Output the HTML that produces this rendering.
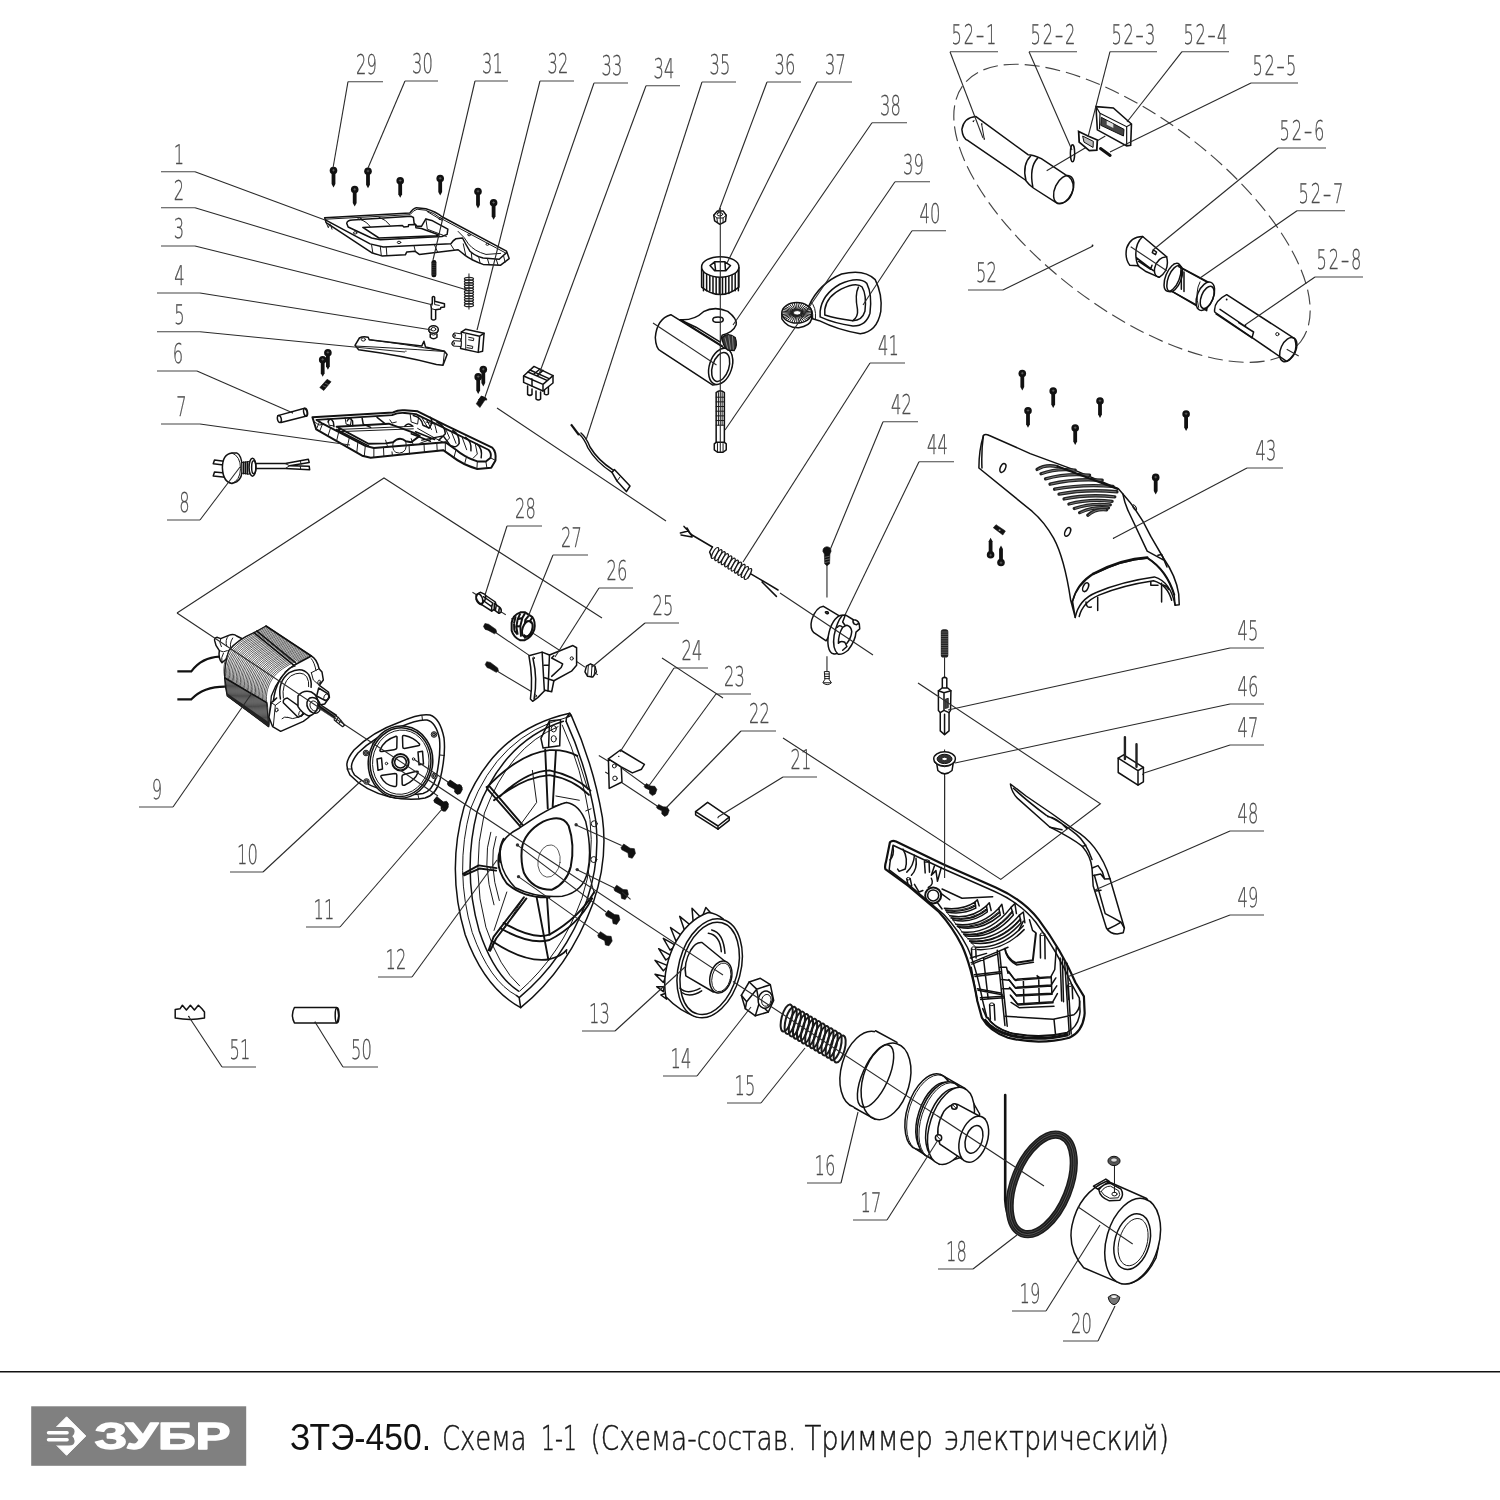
<!DOCTYPE html>
<html lang="ru">
<head>
<meta charset="utf-8">
<title>ЗТЭ-450. Схема 1-1</title>
<style>
html,body{margin:0;padding:0;background:#fff;}
body{width:1500px;height:1500px;overflow:hidden;position:relative;font-family:"Liberation Sans",sans-serif;}
svg{position:absolute;left:0;top:0;display:block;}
svg path,svg line,svg circle,svg ellipse,svg polygon,svg polyline,svg rect{vector-effect:non-scaling-stroke;}
.k{fill:none;stroke:#1a1a1a;stroke-width:1;stroke-linecap:round;stroke-linejoin:round;}
.k2{fill:none;stroke:#111;stroke-width:1.5;stroke-linecap:round;stroke-linejoin:round;}
.k3{fill:none;stroke:#111;stroke-width:2;stroke-linecap:round;stroke-linejoin:round;}
.t{fill:none;stroke:#333;stroke-width:0.8;stroke-linecap:round;stroke-linejoin:round;}
.w{fill:#fff;stroke:#1a1a1a;stroke-width:1;stroke-linecap:round;stroke-linejoin:round;}
.w2{fill:#fff;stroke:#111;stroke-width:1.5;stroke-linecap:round;stroke-linejoin:round;}
.b{fill:#111;stroke:#111;stroke-width:0.6;stroke-linejoin:round;}
.lam{fill:none;stroke:#222;stroke-width:0.75;}
.lam2{fill:none;stroke:#222;stroke-width:0.7;}
.ld{fill:none;stroke:#2a2a2a;stroke-width:1.1;}
.ul{fill:none;stroke:#444;stroke-width:1.15;}
.num{font-family:"DejaVu Sans Light","DejaVu Sans","Liberation Sans",sans-serif;font-weight:200;fill:#4d4d4d;stroke:#4d4d4d;stroke-width:0.3px;font-size:27.2px;text-rendering:geometricPrecision;}
#p-90_labels,#p-00_footer{filter:grayscale(1);}
</style>
</head>
<body>
<svg width="1500" height="1500" viewBox="0 0 1500 1500">
<defs>
<g id="scr"><circle cx="0" cy="0" r="3.8" fill="#111"/><path d="M-1.9 0 V13.5 L0 17 L1.9 13.5 V0 Z" fill="#111"/><path d="M-1.4 -0.3 L1.4 -0.3 M0 -1.6 V1" stroke="#777" stroke-width="0.6" fill="none"/></g>
</defs>
<g id="p-00_footer">
<line x1="0" y1="1371.75" x2="1500" y2="1371.75" stroke="#111" stroke-width="1.5"/>
<rect x="31.2" y="1406.3" width="215" height="59.5" fill="#807f84"/>
<polygon points="66.6,1416.8 85.8,1436 66.6,1455.3 47.4,1436" fill="#fff" stroke="#fff" stroke-width="1" stroke-linejoin="round"/>
<path d="M40 1427 H69 Q74.6 1427 74.6 1431.5 Q74.6 1434.5 72.3 1436.2 Q74.6 1438 74.6 1441 Q74.6 1445.5 69 1445.5 H40 Z" fill="#807f84"/>
<rect x="46.8" y="1431" width="22" height="3.5" rx="1.7" fill="#fff"/>
<rect x="46.8" y="1438" width="22" height="3.5" rx="1.7" fill="#fff"/>
<text x="94.5" y="1449" textLength="136" lengthAdjust="spacingAndGlyphs" font-family="'Liberation Sans',sans-serif" font-weight="bold" font-size="36.5" fill="#fff" stroke="#fff" stroke-width="1.4" stroke-linejoin="round">ЗУБР</text>
<text x="290" y="1450" textLength="141" lengthAdjust="spacingAndGlyphs" font-family="'Liberation Sans',sans-serif" font-size="36" fill="#111">ЗТЭ-450.</text>
<g font-family="'DejaVu Sans Light','DejaVu Sans','Liberation Sans',sans-serif" font-weight="200" font-size="34" fill="#161616" stroke="#161616" stroke-width="0.45">
<text x="442" y="1450" textLength="84.5" lengthAdjust="spacingAndGlyphs">Схема</text>
<text x="541" y="1450" textLength="36" lengthAdjust="spacingAndGlyphs">1-1</text>
<text x="590.5" y="1450" textLength="206" lengthAdjust="spacingAndGlyphs">(Схема-состав.</text>
<text x="804.5" y="1450" textLength="128.5" lengthAdjust="spacingAndGlyphs">Триммер</text>
<text x="944" y="1450" textLength="225" lengthAdjust="spacingAndGlyphs">электрический)</text>
</g>
</g>
<g id="p-10_p01">
<g transform="translate(310,150) scale(0.146667)">
<path class="w2" d="M100,462 L680,430 Q700,400 725,393 L790,400 Q860,420 900,455 L1340,690 L1358,740 L1300,785 L1180,780 Q1100,750 1060,720 L1010,680 L745,712 L715,690 L660,695 L650,715 L490,722 L420,700 L110,495 Z"/>
<path class="k" d="M104,472 L682,441 Q705,410 730,404 L785,410 Q850,430 890,465 L1330,700"/>
<path class="k2" d="M108,478 L410,640 L500,662 L960,640 Q975,615 995,605 L1040,600 Q1060,640 1090,690 Q1130,725 1180,737 L1290,745 L1340,700"/>
<path class="k" d="M420,648 L428,700 M480,664 L486,718 M520,665 L524,716 M710,656 L718,690 M850,650 L870,696 M960,645 L985,684 M1045,640 L1062,718 M1100,705 L1105,750 M1150,728 L1160,772 M1210,742 L1222,782 M1270,746 L1282,784 M1320,722 L1330,765 M110,495 L125,530 L135,505 M140,510 L150,540"/>
<path class="k2" d="M250,500 Q255,480 290,478 L690,452 L705,460 L710,500 L730,520 L760,520 L790,470 L830,480 L940,540 L935,575 L900,590 L480,612 L420,600 L260,525 Z"/>
<path class="k2" d="M360,528 L630,515 L640,525 L670,522 L672,510 L720,508 L722,530 L760,535 L880,580 L860,585 L470,600 Z"/>
<path class="k" d="M340,472 Q390,490 410,522 M470,458 Q520,475 545,512 M790,470 L800,540 L930,590 M1010,555 Q1060,600 1080,640 Q1120,690 1200,712 L1300,705 M800,420 L900,480"/>
<ellipse class="k" cx="338" cy="468" rx="10" ry="7"/><ellipse class="k" cx="308" cy="565" rx="12" ry="8"/><ellipse class="k" cx="607" cy="630" rx="12" ry="8"/><ellipse class="k" cx="888" cy="468" rx="10" ry="7"/><ellipse class="k" cx="1085" cy="578" rx="10" ry="7"/><ellipse class="k" cx="1210" cy="643" rx="10" ry="7"/>
</g>
<use href="#scr" x="333.5" y="170.5"/><use href="#scr" x="368" y="171.3"/><use href="#scr" x="354.7" y="189.6"/><use href="#scr" x="400.2" y="180.8"/><use href="#scr" x="440.2" y="178.6"/><use href="#scr" x="478" y="191.5"/><use href="#scr" x="493.6" y="202.8"/>
</g>
<g id="p-11_p02_05">
<g transform="translate(300,250) scale(0.146667)">
<!-- 31 pin -->
<rect x="896" y="68" width="34" height="118" rx="15" fill="#111"/>
<path d="M900 90 H926 M900 105 H926 M900 120 H926 M900 135 H926 M900 150 H926 M900 165 H926" stroke="#555" stroke-width="0.5" fill="none"/>
<!-- 2 spring -->
<path class="ld" d="M1152 160 V405"/>
<g fill="none" stroke="#222" stroke-width="1.25"><ellipse cx="1152" cy="196" rx="31" ry="10"/><ellipse cx="1152" cy="214" rx="31" ry="10"/><ellipse cx="1152" cy="232" rx="31" ry="10"/><ellipse cx="1152" cy="250" rx="31" ry="10"/><ellipse cx="1152" cy="268" rx="31" ry="10"/><ellipse cx="1152" cy="286" rx="31" ry="10"/><ellipse cx="1152" cy="304" rx="31" ry="10"/><ellipse cx="1152" cy="322" rx="31" ry="10"/><ellipse cx="1152" cy="340" rx="31" ry="10"/><ellipse cx="1152" cy="358" rx="31" ry="10"/><ellipse cx="1152" cy="376" rx="31" ry="10"/></g>
<!-- 3 -->
<path class="w2" d="M902 322 Q910 312 918 322 V350 L985 366 V388 L960 392 L958 402 L925 408 V470 Q910 485 896 470 V400 L892 372 L902 366 Z"/>
<path class="k" d="M918 350 L918 372 L950 378 M896 400 L925 408"/>
<!-- 4 -->
<path class="w2" d="M888 575 V595 Q910 615 934 595 V575"/>
<ellipse class="w2" cx="910" cy="542" rx="33" ry="26"/>
<ellipse class="k" cx="910" cy="540" rx="16" ry="12"/>
<path class="k" d="M878 548 Q880 575 910 580 Q940 575 942 548"/>
<!-- 5 lever -->
<path class="w2" d="M375 650 L405 600 Q430 585 465 595 L472 612 L830 655 L845 622 L856 662 L985 690 L1003 712 L975 785 L930 780 Q700 720 400 680 Z"/>
<path class="k" d="M378 655 Q600 665 985 692 M975 785 L985 692 M472 612 Q700 640 985 690"/>
<ellipse class="k" cx="432" cy="610" rx="14" ry="11"/>
<circle cx="722" cy="690" r="4" fill="#111"/>
<!-- 32 switch -->
<path class="w2" d="M1100 560 L1130 540 L1255 568 L1245 690 L1215 698 L1095 672 Z"/>
<path class="k2" d="M1100 560 L1225 588 L1255 568 M1225 588 L1215 698"/>
<path class="w" d="M1100 572 L1052 565 L1042 585 L1050 600 L1098 606 Z M1098 622 L1045 618 L1035 640 L1045 655 L1096 658 Z"/>
<ellipse class="k" cx="1050" cy="583" rx="8" ry="14"/><ellipse class="k" cx="1044" cy="637" rx="8" ry="14"/>
<path class="k" d="M1150 595 L1185 602 L1183 618 L1150 612 M1140 650 L1178 657 L1176 672 L1138 666 M1130 575 V680"/>
<!-- nuts -->
<path class="b" d="M135 938 L185 882 L212 898 L162 958 Z"/>
<path d="M155 925 L180 935 M170 908 L195 918" stroke="#888" stroke-width="0.6" fill="none"/>
<path class="b" d="M1215 1023 L1240 998 L1268 1010 L1275 1023 Z"/>
</g>
<use href="#scr" x="327.9" y="352.7"/><use href="#scr" x="322.7" y="359.7"/><use href="#scr" x="483.3" y="369.5"/><use href="#scr" x="478.2" y="376.9"/>
</g>
<g id="p-12_p06_08">
<g transform="translate(200,390) scale(0.213333)">
<!-- 7 -->
<path class="w2" style="stroke-width:2" d="M527,128 L905,105 Q930,92 960,95 L1020,100 L1150,165 L1370,270 Q1390,290 1385,330 L1365,365 L1300,370 Q1230,350 1180,310 L1140,282 L800,318 L760,308 L545,185 Z"/>
<path class="k2" style="stroke-width:1.9" d="M546,140 L900,118 Q930,105 960,108 L1012,113 L1352,280 Q1368,295 1362,318 L1340,335 L1300,335 Q1240,315 1200,280 L1150,245 L815,272 L775,262 L575,158 Z"/>
<path class="k2" style="stroke-width:1.9" d="M640,172 L885,158 L1000,200 L1030,215 L990,245 L965,240 Q935,215 905,245 L870,250 L790,252 Z"/>
<path class="k" d="M650,185 L1000,170 M660,195 L1000,182 M600,135 L605,165 L625,168 M680,130 L685,160 L705,165 L710,135 M890,140 L900,155 L920,150 M985,112 L990,150 L1020,160 L1025,125 M1040,130 L1070,180 M1060,150 L1100,160 L1110,200 M1150,180 L1170,225 L1150,245 M1180,200 L1200,250 M1230,225 L1250,280 M1290,250 L1300,300 L1280,320 M1100,225 L1140,245 M1020,180 L1100,225 L1030,250 M1060,135 L1085,185 M870,235 L880,268 M990,228 L1000,258"/>
<path class="k" d="M905,245 Q895,295 935,296 Q975,292 965,242"/>
<path class="k" d="M560,150 L545,185 M575,158 L560,195 M612,178 L600,215 M650,198 L640,240 M700,224 L690,268 M740,245 L735,292 M775,262 L770,310 M815,272 L815,316 M860,268 L862,312 M900,290 L902,308 M980,258 L982,300 M1050,252 L1052,292 M1110,248 L1112,286 M1150,245 L1150,285 M1200,280 L1190,318 M1250,310 L1240,348 M1300,335 L1298,370 M1340,335 L1345,366 M1362,318 L1385,330 M540,150 Q560,175 575,158"/>
<path class="k2" d="M600,150 Q610,125 625,150 L628,172 M690,145 Q700,122 715,145 L716,168 M760,132 L765,160 L800,175 M830,128 L870,160 M1000,120 Q1040,130 1045,165 L1075,178 Q1095,150 1080,128 M1110,150 Q1150,170 1150,205 L1120,235 M1185,190 Q1215,205 1215,250 Q1200,275 1180,262 M1245,222 Q1275,240 1270,285 M1300,255 Q1325,275 1318,318 M1040,235 L1140,215 L1175,262 M640,185 L790,262 M650,172 L655,195 M990,205 L1080,240 M1010,196 L1100,232 M960,170 Q975,150 995,168"/>
<!-- 6 -->
<path class="w2" d="M365,120 L490,86 Q508,98 500,122 L380,152 Q360,145 365,120 Z"/>
<ellipse class="k2" cx="495" cy="104" rx="9" ry="19" transform="rotate(-12 495 104)"/>
<path class="k" d="M430,100 L432,108"/><ellipse class="w2" cx="372" cy="136" rx="9" ry="17" transform="rotate(-12 372 136)"/>
<!-- 8 plug -->
<path class="w2" d="M130,336 L68,328 L62,346 L130,354 Z M130,390 L68,384 L62,403 L130,410 Z"/>
<path class="w2" d="M150,295 Q105,300 105,365 Q108,432 150,438 L172,430 Q200,415 198,360 Q195,305 172,295 Z"/>
<path class="k" d="M150,295 Q190,310 190,368 Q188,425 150,438"/>
<path class="w" d="M198,340 L232,335 L232,395 L198,390 Z"/>
<path class="k2" d="M205,338 V392 M214,337 V393 M223,336 V394"/>
<ellipse class="w2" cx="246" cy="362" rx="16" ry="42"/>
<ellipse class="k2" cx="252" cy="362" rx="10" ry="30"/>
<path class="k2" d="M262,345 L400,345 L508,325 L512,340 L420,355 L512,358 L514,374 L400,368 L262,368"/>
<path class="k" d="M400,345 L420,355 L400,368 M470,332 L474,347 M470,357 L472,372"/>
<!-- nut -->
<path class="b" d="M1295,65 L1318,28 L1342,38 L1312,82 Z"/>
</g>
</g>
<g id="p-20_p09">
<g transform="translate(170,600) scale(0.133333)">
<path class="w2" d="M335,305 Q330,285 355,280 L380,290 L440,265 Q480,250 500,270 L560,300 L450,420 L390,470 Q360,440 370,380 L345,340 Z"/>
<path class="k" d="M380,290 Q365,320 385,350 M440,265 Q410,300 425,345 M470,285 Q440,330 460,380 M370,380 Q400,400 430,380 M390,470 Q380,430 400,400"/>
<path d="M55,535 L160,535 Q240,430 372,425" fill="none" stroke="#111" stroke-width="2.2"/>
<path d="M55,745 L160,745 Q250,650 412,650" fill="none" stroke="#111" stroke-width="2.2"/>
<path d="M630,245 L720,195 L1060,420 L930,490 Q820,560 760,720 L740,950 L430,720 Q385,560 440,380 Q500,300 630,245 Z" fill="#fff" stroke="#111" stroke-width="1.3" stroke-linejoin="round"/>
<path class="lam" d="M630,245 C560,280 480,325 445,385 C405,450 395,520 412,590"/>
<path class="lam" d="M640,252 C570,287 490,332 455,392 C415,457 405,527 422,597"/>
<path class="lam" d="M651,259 C581,294 501,339 466,399 C426,464 416,534 433,604"/>
<path class="lam" d="M661,265 C591,300 511,345 476,405 C436,470 426,540 443,610"/>
<path class="lam" d="M671,272 C601,307 521,352 486,412 C446,477 436,547 453,617"/>
<path class="lam" d="M682,279 C612,314 532,359 496,419 C456,484 446,554 464,624"/>
<path class="lam" d="M692,286 C622,321 542,366 507,426 C467,491 457,561 474,631"/>
<path class="lam" d="M702,293 C632,328 552,373 517,433 C477,498 467,568 484,638"/>
<path class="lam" d="M712,299 C642,334 562,379 527,439 C487,504 477,574 494,644"/>
<path class="lam" d="M723,306 C653,341 573,386 538,446 C498,511 488,581 505,651"/>
<path class="lam" d="M733,313 C663,348 583,393 548,453 C508,518 498,588 515,658"/>
<path class="lam" d="M743,320 C673,355 593,400 558,460 C518,525 508,595 525,665"/>
<path class="lam" d="M754,327 C684,362 604,407 569,467 C529,532 519,602 536,672"/>
<path class="lam" d="M764,333 C694,368 614,413 579,473 C539,538 529,608 546,678"/>
<path class="lam" d="M774,340 C704,375 624,420 589,480 C549,545 539,615 556,685"/>
<path class="lam" d="M784,347 C714,382 634,427 600,487 C560,552 550,622 566,692"/>
<path class="lam" d="M795,354 C725,389 645,434 610,494 C570,559 560,629 577,699"/>
<path class="lam" d="M805,361 C735,396 655,441 620,501 C580,566 570,636 587,706"/>
<path class="lam" d="M815,367 C745,402 665,447 630,507 C590,572 580,642 597,712"/>
<path class="lam" d="M826,374 C756,409 676,454 641,514 C601,579 591,649 608,719"/>
<path class="lam" d="M836,381 C766,416 686,461 651,521 C611,586 601,656 618,726"/>
<path class="lam" d="M846,388 C776,423 696,468 661,528 C621,593 611,663 628,733"/>
<path class="lam" d="M857,395 C787,430 707,475 672,535 C632,600 622,670 639,740"/>
<path class="lam" d="M867,401 C797,436 717,481 682,541 C642,606 632,676 649,746"/>
<path class="lam" d="M877,408 C807,443 727,488 692,548 C652,613 642,683 659,753"/>
<path class="lam" d="M888,415 C818,450 738,495 702,555 C662,620 652,690 670,760"/>
<path class="lam" d="M898,422 C828,457 748,502 713,562 C673,627 663,697 680,767"/>
<path class="lam" d="M908,429 C838,464 758,509 723,569 C683,634 673,704 690,774"/>
<path class="lam" d="M918,435 C848,470 768,515 733,575 C693,640 683,710 700,780"/>
<path class="lam" d="M929,442 C859,477 779,522 744,582 C704,647 694,717 711,787"/>
<path class="lam" d="M939,449 C869,484 789,529 754,589 C714,654 704,724 721,794"/>
<path class="lam" d="M949,456 C879,491 799,536 764,596 C724,661 714,731 731,801"/>
<path class="lam2" d="M632,247 L720,197"/>
<path class="lam2" d="M640,252 L728,202"/>
<path class="lam2" d="M648,258 L736,208"/>
<path class="lam2" d="M657,263 L745,213"/>
<path class="lam2" d="M665,269 L753,219"/>
<path class="lam2" d="M673,274 L761,224"/>
<path class="lam2" d="M681,280 L769,230"/>
<path class="lam2" d="M689,285 L777,235"/>
<path class="lam2" d="M698,291 L786,241"/>
<path class="lam2" d="M706,296 L794,246"/>
<path class="lam2" d="M714,302 L802,252"/>
<path class="lam2" d="M722,307 L810,257"/>
<path class="lam2" d="M730,312 L818,262"/>
<path class="lam2" d="M739,318 L827,268"/>
<path class="lam2" d="M747,323 L835,273"/>
<path class="lam2" d="M755,329 L843,279"/>
<path class="lam2" d="M763,334 L851,284"/>
<path class="lam2" d="M771,340 L859,290"/>
<path class="lam2" d="M780,345 L868,295"/>
<path class="lam2" d="M788,351 L876,301"/>
<path class="lam2" d="M796,356 L884,306"/>
<path class="lam2" d="M804,361 L892,311"/>
<path class="lam2" d="M812,367 L900,317"/>
<path class="lam2" d="M821,372 L909,322"/>
<path class="lam2" d="M829,378 L917,328"/>
<path class="lam2" d="M837,383 L925,333"/>
<path class="lam2" d="M845,389 L933,339"/>
<path class="lam2" d="M853,394 L941,344"/>
<path class="lam2" d="M862,400 L950,350"/>
<path class="lam2" d="M870,405 L958,355"/>
<path class="lam2" d="M878,410 L966,360"/>
<path class="lam2" d="M886,416 L974,366"/>
<path class="lam2" d="M894,421 L982,371"/>
<path class="lam2" d="M903,427 L991,377"/>
<path class="lam2" d="M911,432 L999,382"/>
<path class="lam2" d="M919,438 L1007,388"/>
<path class="lam2" d="M927,443 L1015,393"/>
<path class="lam2" d="M935,449 L1023,399"/>
<path class="lam2" d="M944,454 L1032,404"/>
<path class="lam2" d="M952,460 L1040,410"/>
<path class="lam2" d="M960,465 L1048,415"/>
<path class="k2" d="M630,245 L930,490 M650,232 L950,478 M720,195 L1060,420"/>
<path d="M412,585 L725,770 L740,950 L430,720 Z" fill="#d0d0d0" stroke="#111" stroke-width="1"/>
<path class="lam" d="M418,590 L432,718"/>
<path class="lam" d="M426,595 L440,724"/>
<path class="lam" d="M434,599 L448,729"/>
<path class="lam" d="M442,604 L456,735"/>
<path class="lam" d="M450,609 L464,741"/>
<path class="lam" d="M458,614 L472,747"/>
<path class="lam" d="M466,618 L480,752"/>
<path class="lam" d="M474,623 L488,758"/>
<path class="lam" d="M482,628 L496,764"/>
<path class="lam" d="M490,633 L504,770"/>
<path class="lam" d="M498,637 L512,775"/>
<path class="lam" d="M506,642 L520,781"/>
<path class="lam" d="M514,647 L528,787"/>
<path class="lam" d="M522,651 L536,792"/>
<path class="lam" d="M530,656 L544,798"/>
<path class="lam" d="M538,661 L552,804"/>
<path class="lam" d="M546,666 L560,810"/>
<path class="lam" d="M554,670 L568,815"/>
<path class="lam" d="M562,675 L576,821"/>
<path class="lam" d="M570,680 L584,827"/>
<path class="lam" d="M578,685 L592,833"/>
<path class="lam" d="M586,689 L600,838"/>
<path class="lam" d="M594,694 L608,844"/>
<path class="lam" d="M602,699 L616,850"/>
<path class="lam" d="M610,704 L624,856"/>
<path class="lam" d="M618,708 L632,861"/>
<path class="lam" d="M626,713 L640,867"/>
<path class="lam" d="M634,718 L648,873"/>
<path class="lam" d="M642,722 L656,878"/>
<path class="lam" d="M650,727 L664,884"/>
<path class="lam" d="M658,732 L672,890"/>
<path class="lam" d="M666,737 L680,896"/>
<path class="lam" d="M674,741 L688,901"/>
<path class="lam" d="M682,746 L696,907"/>
<path class="lam" d="M690,751 L704,913"/>
<path class="lam" d="M698,756 L712,919"/>
<path class="lam" d="M706,760 L720,924"/>
<path class="lam" d="M714,765 L728,930"/>
<path class="lam" d="M722,770 L736,936"/>
<path class="lam" d="M730,774 L744,941"/>
<path d="M428,700 L739,915 L740,950 L432,722 Z" fill="#222"/>
<path class="k2" d="M412,585 L725,770"/>
<path class="w2" d="M930,490 L1060,420 Q1100,440 1118,515 L1140,540 L1150,600 L1120,640 L1188,690 L1196,730 L1160,780 L1100,792 Q1080,860 1000,910 L830,985 L770,950 L742,880 L760,770 L800,735 L775,760 C790,620 850,540 930,490 Z"/>
<path class="k2" d="M828,742 Q805,610 895,545 Q990,495 1040,560 Q1065,610 1058,655"/>
<path class="k" d="M850,735 Q835,630 905,570 Q985,525 1025,575 Q1045,610 1040,650 M860,540 Q900,500 940,495 M1060,440 Q1085,470 1095,530 M760,770 L790,790 L830,760 M790,790 L775,945 M1060,545 L1090,530 L1118,515 M1060,545 L1075,600 L1120,640 M1100,792 L1075,760"/>
<path class="w2" d="M850,770 Q845,740 880,735 L1000,820 Q1010,850 980,870 L960,880 Z"/>
<ellipse class="k" cx="985" cy="850" rx="18" ry="26" transform="rotate(25 985 850)"/>
<path class="w2" d="M1115,660 L1180,700 Q1200,720 1185,745 L1165,755 L1100,720 Z"/>
<ellipse class="k" cx="1172" cy="728" rx="17" ry="25" transform="rotate(25 1172 728)"/>
<ellipse class="k" cx="800" cy="825" rx="10" ry="15" transform="rotate(20 800 825)"/>
<ellipse class="k" cx="1118" cy="615" rx="9" ry="15" transform="rotate(20 1118 615)"/>
<path class="w2" d="M960,720 Q1000,670 1060,690 Q1120,720 1110,800 Q1090,860 1040,870 Q990,850 960,800 Z"/>
<ellipse class="k2" cx="1078" cy="790" rx="48" ry="62" transform="rotate(-28 1078 790)"/>
<ellipse class="k" cx="1082" cy="795" rx="30" ry="40" transform="rotate(-28 1082 795)"/>
<path class="k" d="M880,880 Q920,900 960,880 M840,890 Q860,870 880,880"/>
<path d="M1098,805 L1118,772 L1255,862 L1238,895 Z" fill="#111"/>
<path class="w" d="M1240,868 L1262,880 L1300,925 L1308,940 L1295,950 L1278,938 L1232,900 Z" style="stroke-width:1.3"/>
<path class="k" d="M1262,880 L1248,905 M1282,902 L1268,925"/>
<path d="M1112,805 L1235,895 M1125,790 L1245,875" stroke="#999" stroke-width="0.6" fill="none"/>
</g>
</g>
<g id="p-21_p10">
<g transform="translate(330,690) scale(0.1)">
<path class="w2" d="M170,760 Q160,700 240,600 Q420,420 700,320 Q900,230 1000,250 Q1100,280 1140,480 Q1160,650 1100,900 Q1060,1050 950,1080 Q800,1110 600,1070 Q350,1010 200,850 Q170,800 170,760 Z"/>
<path class="k2" d="M215,770 Q210,720 280,630 Q440,470 700,370 Q880,290 970,300 Q1060,320 1095,490 Q1110,650 1060,880 Q1020,1010 930,1035 Q800,1060 620,1025 Q380,970 245,850 Q215,810 215,770 Z"/>
<path class="k" d="M170,790 L215,790 M920,262 L925,305 M1100,650 L1145,655 M880,1050 L890,1090"/>
<ellipse class="w2" cx="705" cy="722" rx="322" ry="362" transform="rotate(8 705 722)"/>
<ellipse class="k2" cx="705" cy="722" rx="303" ry="344" transform="rotate(8 705 722)"/>
<ellipse class="k" cx="708" cy="722" rx="282" ry="322" transform="rotate(8 708 722)"/>
<path class="k2" d="M500,600 Q540,500 660,462 Q672,460 670,480 L668,580 Q665,595 640,598 L520,615 Q495,615 500,600 Z M725,470 Q725,450 745,455 Q840,475 895,540 Q900,555 880,558 L745,585 Q728,585 728,570 Z M510,870 Q505,855 525,852 L650,835 Q668,835 668,850 L666,950 Q665,968 640,965 Q550,950 510,870 Z M720,865 Q720,850 740,845 L865,812 Q885,810 880,825 Q850,905 745,952 Q722,958 722,940 Z"/>
<path class="k2" d="M470,690 L515,680 L525,790 L480,802 Z M880,620 L925,612 L935,740 L890,748 Z"/>
<circle class="k3" cx="705" cy="722" r="82"/>
<circle class="k2" cx="705" cy="722" r="58"/>
<circle class="k" cx="565" cy="735" r="12"/><circle class="k" cx="835" cy="690" r="12"/>
<g fill="#999" stroke="#222" stroke-width="1"><circle cx="360" cy="630" r="28"/><circle cx="1040" cy="445" r="28"/><circle cx="365" cy="915" r="28"/><circle cx="1045" cy="860" r="28"/></g>
<g class="k"><circle cx="360" cy="630" r="14"/><circle cx="1040" cy="445" r="14"/><circle cx="365" cy="915" r="14"/><circle cx="1045" cy="860" r="14"/></g>
<!-- screws 11 -->
<path class="b" d="M1175,925 L1200,905 L1270,950 L1300,945 L1322,975 L1305,1030 L1275,1045 L1245,1020 L1250,985 L1180,950 Z"/>
<path class="b" d="M1040,1100 L1065,1078 L1135,1120 L1165,1112 L1185,1140 L1168,1195 L1138,1212 L1110,1190 L1115,1155 L1045,1122 Z"/>
</g>
</g>
<g id="p-22_p12">
<g transform="translate(430,700) scale(0.213333)">
<path class="w2" d="M655,62 Q300,140 160,500 Q75,800 165,1100 Q255,1350 425,1442 Q650,1260 765,950 Q835,750 808,550 Q765,300 662,72 Z"/>
<path class="k" d="M640,82 Q320,165 190,510 Q112,800 198,1090 Q280,1320 405,1385"/>
<path class="k2" d="M625,100 Q345,190 222,520 Q150,800 230,1080 Q300,1290 415,1365"/>
<path class="k" d="M600,125 Q370,220 255,530 Q190,800 262,1065 Q325,1255 420,1340"/>
<path class="k2" d="M638,100 Q735,310 776,560 Q800,750 735,940 Q630,1220 418,1395 L425,1442 M405,1385 L418,1395"/>
<path class="k" d="M620,118 Q712,320 750,560 Q772,750 712,930 Q615,1195 420,1365"/>
<path class="k2" d="M655,62 L640,82 L638,100 M662,72 L640,82"/>
<!-- ring ribs -->
<path class="k2" style="stroke-width:1.9" d="M268,408 Q420,250 560,235 Q640,232 690,262 M330,450 Q450,335 560,330 Q680,355 752,425 M300,470 Q440,360 560,352 Q670,370 745,445"/>
<path class="k2" style="stroke-width:1.9" d="M290,1130 Q450,1235 560,1215 Q620,1200 640,1172 M345,1045 Q480,1125 560,1100 Q700,1020 770,900 M330,1070 Q470,1150 560,1125 Q690,1060 760,930"/>
<path class="k" d="M285,620 Q240,760 300,960 M310,640 Q270,760 325,940 M690,262 L740,420 M640,1172 L640,1190"/>
<!-- spokes -->
<path class="k2" style="stroke-width:1.9" d="M540,232 L552,508 M590,240 L575,500 M500,925 L555,1218 M548,920 L560,1100"/>
<path class="k2" style="stroke-width:1.9" d="M265,408 L272,420 L428,598 L436,588 L278,404 Z"/>
<path class="k2" style="stroke-width:1.9" d="M155,815 L228,775 L312,788 M160,822 L232,790 L310,800 M275,1172 L298,1110 L440,925 M282,1176 L310,1118 L452,930"/>
<path class="k" d="M480,330 L500,480 L420,590 M575,500 L640,480 M590,450 L700,470 M360,900 L300,1080 M440,925 L350,1070 M730,520 L755,510 M740,800 L770,905"/>
<!-- top box -->
<path class="k2" d="M560,98 L612,92 L608,215 L556,222 Z M560,98 L520,180 L530,225 L556,222"/>
<ellipse class="k" cx="580" cy="135" rx="12" ry="15"/><ellipse class="k" cx="580" cy="182" rx="12" ry="15"/>
<!-- hub -->
<path class="w2" d="M330,700 Q340,640 420,600 Q560,500 640,480 Q700,490 730,570 Q760,700 740,800 Q720,900 620,920 Q500,930 400,880 Q320,800 330,700 Z"/>
<path class="k3" d="M430,700 Q440,620 530,570 Q620,530 650,590 Q680,680 660,780 Q640,860 570,890 Q480,890 440,810 Q425,760 430,700 Z"/>
<path class="k2" style="stroke-width:1.9" d="M330,700 Q300,780 360,860 Q440,930 560,925 M345,650 Q318,700 330,760"/>
<ellipse class="t" cx="558" cy="755" rx="52" ry="76" transform="rotate(8 558 755)"/>
<circle cx="410" cy="680" r="8" fill="#333"/><circle cx="415" cy="828" r="8" fill="#333"/><circle cx="685" cy="585" r="8" fill="#333"/><circle cx="690" cy="795" r="8" fill="#333"/>
<circle class="k" cx="770" cy="580" r="14"/><circle class="k" cx="768" cy="748" r="14"/>
<!-- screws -->
<path class="b" d="M82,392 L95,375 L128,398 L146,400 L152,420 L140,440 L122,438 L118,420 L86,402 Z"/>
<path class="b" d="M18,470 L32,452 L62,478 L82,480 L86,502 L72,522 L55,518 L52,498 L22,480 Z"/>
<path class="b" transform="translate(33,-193)" d="M862,885 L875,868 L905,888 L925,890 L930,912 L915,935 L898,930 L895,910 L866,895 Z"/>
<path class="b" d="M862,885 L875,868 L905,888 L925,890 L930,912 L915,935 L898,930 L895,910 L866,895 Z"/>
<path class="b" d="M822,1003 L835,986 L865,1006 L885,1008 L890,1030 L875,1052 L858,1048 L855,1028 L826,1013 Z"/>
<path class="b" d="M786,1103 L799,1086 L829,1106 L849,1108 L854,1130 L839,1152 L822,1148 L819,1128 L790,1113 Z"/>
</g>
</g>
<g id="p-23_p13_15">
<g transform="translate(630,880) scale(0.166667)">
<path class="w2" d="M455,165 L500,215 L430,230 Z"/>
<path class="w2" d="M372,170 L440,240 L380,262 Z"/>
<path class="w2" d="M298,218 L380,285 L330,310 Z"/>
<path class="w2" d="M243,285 L320,340 L275,365 Z"/>
<path class="w2" d="M200,350 L280,395 L240,420 Z"/>
<path class="w2" d="M172,412 L250,455 L215,480 Z"/>
<path class="w2" d="M150,482 L230,515 L200,545 Z"/>
<path class="w2" d="M150,565 L215,580 L200,615 Z"/>
<path class="w2" d="M160,640 L205,640 L200,670 Z"/>
<path class="w2" d="M185,690 L215,680 L220,715 Z"/>
<path class="w2" d="M470,195 Q520,200 560,235 L400,820 Q300,790 215,700 Q190,560 260,400 Q340,240 470,195 Z"/>
<ellipse class="w2" cx="478" cy="530" rx="186" ry="303" transform="rotate(15 478 530)"/>
<ellipse class="k2" cx="478" cy="530" rx="168" ry="283" transform="rotate(15 478 530)"/>
<path class="k2" d="M470,320 Q540,330 548,430 M490,300 Q560,315 570,440 M300,650 Q340,690 420,650 M310,675 Q360,710 430,665"/>
<path class="w2" d="M575,492 L432,375 Q395,370 365,420 Q320,500 335,575 L500,672 Z"/>
<ellipse class="w2" cx="545" cy="582" rx="64" ry="98" transform="rotate(15 545 582)"/>
<ellipse class="k" cx="548" cy="584" rx="55" ry="88" transform="rotate(15 548 584)"/>
<path class="w2" d="M715,612 L782,590 L842,628 L862,722 L830,792 L752,815 L692,772 L668,692 Z"/>
<path class="k2" d="M715,612 L760,655 L842,628 M760,655 L775,740 L752,815 M775,740 L830,792 M668,692 L700,730 L692,772 M700,730 L760,655"/>
<ellipse class="w2" cx="812" cy="718" rx="42" ry="52" transform="rotate(15 812 718)"/>
<ellipse class="k" cx="818" cy="722" rx="28" ry="36" transform="rotate(15 818 722)"/>
<ellipse cx="940" cy="828" rx="30" ry="84" transform="rotate(15 940 828)" fill="none" stroke="#1a1a1a" stroke-width="2"/>
<ellipse cx="964" cy="842" rx="30" ry="84" transform="rotate(15 964 842)" fill="none" stroke="#1a1a1a" stroke-width="2"/>
<ellipse cx="989" cy="857" rx="30" ry="84" transform="rotate(15 989 857)" fill="none" stroke="#1a1a1a" stroke-width="2"/>
<ellipse cx="1014" cy="871" rx="30" ry="84" transform="rotate(15 1014 871)" fill="none" stroke="#1a1a1a" stroke-width="2"/>
<ellipse cx="1038" cy="885" rx="30" ry="84" transform="rotate(15 1038 885)" fill="none" stroke="#1a1a1a" stroke-width="2"/>
<ellipse cx="1062" cy="900" rx="30" ry="84" transform="rotate(15 1062 900)" fill="none" stroke="#1a1a1a" stroke-width="2"/>
<ellipse cx="1087" cy="914" rx="30" ry="84" transform="rotate(15 1087 914)" fill="none" stroke="#1a1a1a" stroke-width="2"/>
<ellipse cx="1112" cy="928" rx="30" ry="84" transform="rotate(15 1112 928)" fill="none" stroke="#1a1a1a" stroke-width="2"/>
<ellipse cx="1136" cy="942" rx="30" ry="84" transform="rotate(15 1136 942)" fill="none" stroke="#1a1a1a" stroke-width="2"/>
<ellipse cx="1160" cy="957" rx="30" ry="84" transform="rotate(15 1160 957)" fill="none" stroke="#1a1a1a" stroke-width="2"/>
<ellipse cx="1185" cy="971" rx="30" ry="84" transform="rotate(15 1185 971)" fill="none" stroke="#1a1a1a" stroke-width="2"/>
<ellipse cx="1210" cy="985" rx="30" ry="84" transform="rotate(15 1210 985)" fill="none" stroke="#1a1a1a" stroke-width="2"/>
<ellipse cx="1234" cy="1000" rx="30" ry="84" transform="rotate(15 1234 1000)" fill="none" stroke="#1a1a1a" stroke-width="2"/>
<ellipse cx="1258" cy="1014" rx="30" ry="84" transform="rotate(15 1258 1014)" fill="none" stroke="#1a1a1a" stroke-width="2"/>
</g>
</g>
<g id="p-24_p16_20">
<g transform="translate(820,1020) scale(0.233333)">
<!-- 16 -->
<ellipse class="w2" cx="192" cy="212" rx="100" ry="168" transform="rotate(16 192 212)"/>
<path d="M238,44 L342,98 L250,428 L147,374 Z" fill="#fff" stroke="none"/>
<path class="k2" d="M238,46 L330,96 M147,376 L236,426"/>
<ellipse class="w2" cx="283" cy="263" rx="100" ry="168" transform="rotate(16 283 263)"/>
<ellipse class="k2" cx="238" cy="240" rx="56" ry="144" transform="rotate(24 238 240)"/>
<!-- 17 -->
</g><g transform="translate(895,1065) scale(0.07)">
<path class="w2" d="M650,135 L1000,335 L1210,700 L1000,1300 L640,1420 L300,1200 L150,900 L300,400 Z" stroke="none"/>
<ellipse class="w2" cx="475" cy="668" rx="300" ry="560" transform="rotate(18 475 668)"/>
<ellipse class="k" cx="500" cy="682" rx="300" ry="560" transform="rotate(18 500 682)"/>
<ellipse class="w2" cx="600" cy="750" rx="270" ry="520" transform="rotate(18 600 750)"/>
<ellipse class="w2" cx="650" cy="780" rx="300" ry="560" transform="rotate(18 650 780)"/>
<ellipse class="k" cx="675" cy="795" rx="300" ry="560" transform="rotate(18 675 795)"/>
<ellipse class="w2" cx="740" cy="835" rx="270" ry="520" transform="rotate(18 740 835)"/>
<ellipse class="w2" cx="800" cy="870" rx="300" ry="570" transform="rotate(18 800 870)"/>
<path class="w2" d="M900,565 L1290,775 L960,1345 L640,1130 Q560,900 700,660 Q800,540 900,565 Z"/>
<ellipse class="w2" cx="1125" cy="1060" rx="195" ry="340" transform="rotate(18 1125 1060)"/>
<ellipse class="k2" cx="1128" cy="1062" rx="118" ry="205" transform="rotate(18 1128 1062)"/>
<circle class="w2" cx="848" cy="592" r="40"/><circle class="w2" cx="622" cy="1040" r="45"/>
<path class="k" d="M830,575 L865,610 M605,1020 L640,1060"/>
</g><g transform="translate(820,1020) scale(0.233333)">
<!-- 18 -->
<!-- 19 -->
<path class="w2" d="M1230,690 L1400,765 Q1480,880 1440,1020 Q1380,1140 1290,1130 L1130,1062 Q1060,980 1080,880 Q1110,740 1230,690 Z"/>
<ellipse class="w2" cx="1340" cy="948" rx="112" ry="188" transform="rotate(16 1340 948)"/>
<ellipse class="k2" cx="1338" cy="950" rx="74" ry="122" transform="rotate(16 1338 950)"/>
<ellipse class="k" cx="1342" cy="952" rx="60" ry="104" transform="rotate(16 1342 952)"/>
<path class="k2" d="M1172,712 L1225,682 L1240,692 L1190,725 Z M1195,728 Q1215,700 1245,700 L1290,725 Q1305,750 1285,772 L1240,775 Q1200,760 1195,728 Z"/>
<path class="k" d="M1205,735 Q1220,712 1245,712 L1280,732 Q1290,750 1278,762 L1242,764 Q1212,752 1205,735 Z"/>
<ellipse class="k" cx="1262" cy="746" rx="11" ry="8"/>
<!-- 20 -->
<path class="k" d="M1262,622 V740"/>
<ellipse cx="1260" cy="604" rx="26" ry="20" fill="#555" stroke="#111" stroke-width="1"/>
<ellipse cx="1260" cy="600" rx="14" ry="9" fill="#ddd" stroke="#111" stroke-width="0.6"/>
<path d="M1235,1188 Q1260,1165 1285,1188 Q1280,1215 1260,1220 Q1240,1215 1235,1188 Z" fill="#777" stroke="#111" stroke-width="1"/>
<ellipse cx="1260" cy="1186" rx="14" ry="8" fill="#eee" stroke="#111" stroke-width="0.6"/>
</g>
<path d="M1005.2,1095 V1200 Q1006,1215 1012,1222" fill="none" stroke="#111" stroke-width="2.6" stroke-linecap="round"/>
<ellipse cx="1041.7" cy="1184.4" rx="27.3" ry="52.5" transform="rotate(22 1041.7 1184.4)" fill="none" stroke="#1c1c1c" stroke-width="8.2"/>
<ellipse cx="1041.7" cy="1184.4" rx="27.5" ry="53" transform="rotate(22 1041.7 1184.4)" fill="none" stroke="#8a8a8a" stroke-width="0.5"/>
<ellipse cx="1041.7" cy="1184.4" rx="29.5" ry="55" transform="rotate(22 1041.7 1184.4)" fill="none" stroke="#777" stroke-width="0.4"/>
<ellipse cx="1041.7" cy="1184.4" rx="25.3" ry="50.5" transform="rotate(22 1041.7 1184.4)" fill="none" stroke="#777" stroke-width="0.4"/>
</g>
<g id="p-30_p43">
<g transform="translate(960,360) scale(0.18)">
<path class="w2" d="M130,420 Q140,408 160,418 L390,520 L620,605 L880,715 L910,750 Q1000,850 1060,980 L1130,1100 Q1200,1200 1215,1300 L1218,1360 L1195,1362 L1190,1310 Q1150,1170 1040,1100 Q900,1110 740,1190 Q650,1250 625,1340 L640,1430 L615,1335 Q580,1100 520,990 Q470,900 400,840 L105,600 Q105,500 130,420 Z"/>
<path d="M740,1188 Q900,1105 1040,1098" fill="none" stroke="#111" stroke-width="2.6" stroke-linecap="round"/>
<path class="k2" d="M625,1340 Q650,1240 740,1186 M1040,1098 Q1150,1165 1192,1305 M640,1430 Q660,1330 760,1290 Q900,1230 1080,1205 Q1170,1232 1195,1362 M662,1425 Q682,1345 772,1306 Q900,1252 1075,1226 Q1150,1246 1176,1335"/>
<path class="k2" d="M905,745 Q915,800 940,850 L1040,1062 L1132,1112 M1100,1085 L1120,1080 L1150,1150 M130,420 Q118,500 122,600"/>
<path class="k2" d="M765,1318 V1392 M1120,1240 V1345 M1060,1232 V1252 H1100 M700,1345 Q700,1380 730,1372 M1130,1250 Q1150,1255 1160,1275"/>
<path d="M428,608 Q474,578 540,592" fill="none" stroke="#222" stroke-width="3.3" stroke-linecap="round"/>
<path d="M434,607 Q474,578 534,592" fill="none" stroke="#999" stroke-width="0.7" stroke-linecap="round"/>
<path d="M450,632 Q535,600 640,612" fill="none" stroke="#222" stroke-width="3.3" stroke-linecap="round"/>
<path d="M456,631 Q535,600 634,612" fill="none" stroke="#999" stroke-width="0.7" stroke-linecap="round"/>
<path d="M475,660 Q587,628 720,640" fill="none" stroke="#222" stroke-width="3.3" stroke-linecap="round"/>
<path d="M481,659 Q587,628 714,640" fill="none" stroke="#999" stroke-width="0.7" stroke-linecap="round"/>
<path d="M500,690 Q635,657 790,668" fill="none" stroke="#222" stroke-width="3.3" stroke-linecap="round"/>
<path d="M506,689 Q635,657 784,668" fill="none" stroke="#999" stroke-width="0.7" stroke-linecap="round"/>
<path d="M525,718 Q677,688 850,702" fill="none" stroke="#222" stroke-width="3.3" stroke-linecap="round"/>
<path d="M531,717 Q677,688 844,702" fill="none" stroke="#999" stroke-width="0.7" stroke-linecap="round"/>
<path d="M550,745 Q701,716 872,732" fill="none" stroke="#222" stroke-width="3.3" stroke-linecap="round"/>
<path d="M556,744 Q701,716 866,732" fill="none" stroke="#999" stroke-width="0.7" stroke-linecap="round"/>
<path d="M578,772 Q709,744 860,760" fill="none" stroke="#222" stroke-width="3.3" stroke-linecap="round"/>
<path d="M584,771 Q709,744 854,760" fill="none" stroke="#999" stroke-width="0.7" stroke-linecap="round"/>
<path d="M605,800 Q715,770 845,785" fill="none" stroke="#222" stroke-width="3.3" stroke-linecap="round"/>
<path d="M611,799 Q715,770 839,785" fill="none" stroke="#999" stroke-width="0.7" stroke-linecap="round"/>
<path d="M635,825 Q725,793 835,805" fill="none" stroke="#222" stroke-width="3.3" stroke-linecap="round"/>
<path d="M641,824 Q725,793 829,805" fill="none" stroke="#999" stroke-width="0.7" stroke-linecap="round"/>
<path d="M665,848 Q735,813 825,822" fill="none" stroke="#222" stroke-width="3.3" stroke-linecap="round"/>
<path d="M671,847 Q735,813 819,822" fill="none" stroke="#999" stroke-width="0.7" stroke-linecap="round"/>
<path d="M710,862 Q752,825 815,832" fill="none" stroke="#222" stroke-width="3.3" stroke-linecap="round"/>
<path d="M716,861 Q752,825 809,832" fill="none" stroke="#999" stroke-width="0.7" stroke-linecap="round"/>
<path d="M540,590 L880,718" fill="none" stroke="#111" stroke-width="2.2"/>
<ellipse class="k2" cx="238" cy="600" rx="14" ry="26" transform="rotate(25 238 600)"/>
<ellipse class="k2" cx="598" cy="955" rx="14" ry="26" transform="rotate(25 598 955)"/>
<ellipse class="k2" cx="698" cy="1262" rx="14" ry="26" transform="rotate(25 698 1262)"/>
<ellipse class="k" cx="970" cy="820" rx="8" ry="18" transform="rotate(-30 970 820)"/>
<circle cx="853" cy="990" r="4" fill="#111"/>
<path class="b" d="M185,932 L200,915 L252,950 L238,972 Z"/>
<ellipse cx="220" cy="945" rx="6" ry="4" fill="#ddd"/>
</g>
<use href="#scr" x="1022.3" y="373.5"/>
<use href="#scr" x="1053.2" y="391.0"/>
<use href="#scr" x="1028.0" y="410.8"/>
<use href="#scr" x="1100.0" y="401.0"/>
<use href="#scr" x="1075.2" y="428.0"/>
<use href="#scr" x="1186.1" y="414.0"/>
<use href="#scr" x="1155.7" y="477.4"/>
<use href="#scr" transform="translate(990.6,554.8) scale(1,-1)"/>
<use href="#scr" transform="translate(1001.0,562.5) scale(1,-1)"/>
</g>
<g id="p-31_p49">
<g transform="translate(870,820) scale(0.153333)">
<path class="w" style="stroke-width:2.2;stroke:#111" d="M130,145 Q145,130 170,140 L480,290 L820,440 Q1000,520 1100,650 Q1250,850 1340,1060 L1395,1150 L1400,1260 Q1390,1380 1300,1420 Q1100,1470 900,1420 Q780,1380 730,1290 L700,1180 Q660,950 600,820 Q540,700 450,600 L250,430 L100,320 Q95,300 105,270 Z"/>
<path class="k2" d="M150,165 L470,315 L810,465 Q980,540 1080,665 Q1225,860 1315,1070 L1365,1160 L1370,1250 Q1360,1350 1285,1385 Q1100,1430 910,1385 Q800,1350 760,1280 L735,1180 Q690,950 635,830 Q575,715 480,615 L275,440 L125,325 L130,280 L150,165"/>
<path d="M745,1300 Q800,1375 920,1405 Q1100,1445 1295,1400" fill="none" stroke="#111" stroke-width="3"/>
<!-- upper-left details -->
<path class="k2" d="M150,175 Q160,230 130,260 M215,190 Q250,250 230,320 L190,335 L180,320 M290,230 Q285,300 240,340 M300,250 Q310,320 270,360 M355,270 L360,345 M385,268 L388,340 M420,300 L400,360 L430,330 L440,400 L465,310 M400,380 Q420,420 380,440 M290,420 L320,470 L345,460 M240,385 L250,430 M262,382 L272,428"/>
<ellipse class="k" cx="370" cy="268" rx="15" ry="9"/><ellipse class="k" cx="250" cy="383" rx="12" ry="8"/>
<circle class="k3" cx="412" cy="492" r="52"/><circle class="k2" cx="412" cy="492" r="36"/>
<path class="k2" d="M465,480 L520,520 M440,540 L470,580 M470,450 L600,510 L800,500"/>
<!-- fins -->
<path class="k2" d="M485,575 Q600,590 685,535 L690,575 Q600,620 500,600 M520,625 Q660,650 760,560 L765,600 Q660,680 540,650 M560,680 Q720,700 840,575 L850,620 Q720,730 580,700 M600,730 Q780,750 920,570 L935,620 Q800,780 620,755 M640,775 Q830,790 975,620 L985,670 Q850,830 660,800 M690,830 Q860,840 1000,690"/>
<path class="k" d="M490,585 Q600,603 688,552 M528,637 Q660,663 762,578 M568,690 Q720,713 845,595 M608,742 Q790,765 928,592 M648,787 Q840,808 980,642 M500,600 L520,625 M540,650 L560,680 M580,700 L600,730 M620,755 L640,775 M660,800 L690,830"/>
<!-- lower box -->
<path class="k2" d="M830,850 L880,1340 M660,930 L830,860 L900,830 M655,900 L760,870 M680,1010 L850,990 M700,1100 L860,1130 M720,1160 L870,1150 M735,1230 L760,1290 M850,960 L890,960 L900,1000 M860,1040 L905,1045 M865,1100 L910,1100 M1040,650 L1060,720 L1080,735 M1000,660 L970,720"/>
<path class="k3" d="M880,840 Q890,900 950,932 L1062,915 L1082,740"/>
<path class="k2" d="M900,985 L942,1040 L1180,1022 L1205,975 L1215,830 M905,1040 L946,1092 L1182,1076 L1212,1030 M910,1092 L952,1142 L1186,1130 L1218,1082 M915,1142 L962,1200 L1192,1186 L1222,1132 M920,1190 L975,1225 L1200,1215 M1090,1015 L1095,1030 M1240,900 L1250,1180 M1270,930 L1300,1400 M1200,1300 L1210,1400 M1195,1300 L1330,1270 Q1370,1240 1368,1180 M880,1280 L1195,1300"/>
<path class="k2" d="M495,590 Q600,608 688,560 M530,640 Q660,668 763,585 M570,694 Q720,718 846,602 M612,746 Q790,770 930,598 M650,790 Q840,812 982,648 M700,845 Q870,855 1005,715 M685,535 L700,520 L712,560 M760,560 L778,540 L790,590 M840,575 L860,550 L872,610 M920,570 L945,545 L955,610 M975,620 L1000,600 L1010,670"/>
<path class="k2" d="M665,940 L835,872 M685,1020 L852,1000 M705,1110 L862,1140 M722,1170 L872,1160 M660,960 L700,1180 M740,900 L770,1160 M905,990 L947,1046 L1182,1028 M910,1046 L950,1098 L1184,1082 M915,1098 L956,1148 L1188,1136 M920,1148 L966,1206 L1194,1192 M1182,1022 L1186,1130 M1100,1020 L1104,1190 M1000,1035 L1004,1200 M890,870 Q900,915 955,945 L1066,928 M845,860 L895,1345 M1255,905 L1262,1185 M1285,935 L1312,1395 M770,1290 Q810,1360 925,1392 Q1100,1432 1288,1390"/>
<!-- posts -->
<path class="k2" d="M1110,750 L1112,900 M1140,750 L1142,905 M662,840 L664,905 M690,840 L692,900 M780,1205 L785,1300 M810,1205 L815,1305 M1290,1080 L1295,1170 M1318,1080 L1322,1165"/>
<ellipse class="k" cx="1125" cy="745" rx="15" ry="9"/><ellipse class="k" cx="676" cy="836" rx="14" ry="9"/><ellipse class="k" cx="795" cy="1202" rx="15" ry="9"/><ellipse class="k" cx="1304" cy="1077" rx="14" ry="9"/>
</g>
</g>
<g id="p-32_p48">
<g transform="translate(990,760) scale(0.12)">
<path class="w2" d="M170,200 Q180,270 230,320 L500,560 Q680,650 770,720 Q840,800 850,900 L860,1050 L970,1400 Q1000,1450 1060,1450 L1110,1440 L1120,1400 L1000,990 Q960,850 870,730 Q800,640 700,580 L520,450 L300,300 Z"/>
<path class="k2" d="M195,235 Q300,335 470,462 Q600,520 720,620 Q800,685 850,830 M480,470 Q560,480 640,570 M500,560 L600,582 M870,960 L960,1280 L1020,1312 L1092,1352 M852,900 L900,880 L935,930 M862,962 L922,950 L955,992 M880,1092 L925,1085 M770,720 L800,710 M980,1410 Q1050,1380 1092,1352 L1118,1400 M935,930 L955,992 L1000,990"/>
</g>
</g>
<g id="p-33_p42_46">
<g transform="translate(790,520) scale(0.186667)">
<!-- 42 screws -->
<path class="ld" d="M198,240 V415 M198,730 V812"/>
<path class="b" d="M176,168 Q176,145 198,143 Q220,145 220,168 L214,182 L212,235 L198,245 L186,235 L184,182 Z"/>
<path d="M186,200 L212,194 M186,214 L212,208 M186,228 L212,222" stroke="#aaa" stroke-width="0.5" fill="none"/>
<path class="w" d="M186,812 L210,812 L210,855 L222,872 Q200,892 176,872 L186,855 Z"/>
<path class="k" d="M186,825 H210 M186,838 H210 M186,850 H210 M180,872 H218"/>
<!-- 44 -->
</g><g transform="translate(800,590) scale(0.053333)">
<path class="w2" d="M440,305 Q300,320 220,560 Q180,720 260,800 L490,952 L760,500 Z"/>
<ellipse class="w2" cx="715" cy="835" rx="175" ry="372" transform="rotate(14 715 835)"/>
<path class="w2" d="M790,478 L850,468 L1000,558 Q1090,560 1112,640 L1120,730 L1050,790 Q1040,950 900,1130 Q800,1215 715,1205 Q600,1100 640,850 Q690,600 790,478 Z"/>
<path class="k2" d="M880,660 Q960,680 970,780 Q960,900 880,1000 M700,700 Q740,640 800,700 L850,670 L880,660 M720,1000 Q760,940 840,980 L880,1060 L800,1130 M800,700 Q720,820 720,1000 M850,468 L800,600 L850,670 M1000,558 Q980,600 1020,640 L1060,650 Q1090,620 1112,640"/>
<ellipse class="k2" cx="505" cy="425" rx="30" ry="17" transform="rotate(20 505 425)"/>
</g><g transform="translate(790,520) scale(0.186667)">
<!-- 45 -->
<path class="ld" d="M828,735 V842 M828,1230 V1500"/>
<rect x="808" y="585" width="40" height="152" rx="14" fill="#222"/>
<path d="M810,600 H846 M810,612 H846 M810,624 H846 M810,636 H846 M810,648 H846 M810,660 H846 M810,672 H846 M810,684 H846 M810,696 H846 M810,708 H846 M810,720 H846" stroke="#999" stroke-width="0.5" fill="none"/>
<path class="w2" d="M816,848 Q828,838 840,848 V905 H816 Z"/>
<path class="w2" d="M795,915 L815,900 L845,900 L862,915 L860,1020 L852,1032 L852,1130 L828,1150 L805,1130 L805,1032 L795,1020 Z"/>
<path class="k2" d="M795,915 L825,925 L862,915 M825,925 L825,1020 L805,1032 M825,1020 L852,1032 M828,1040 V1148"/>
<path d="M832,960 L848,955 L848,1005 L832,1010 Z" fill="#444" stroke="#111" stroke-width="0.8"/>
<!-- 46 -->
<path class="w2" d="M785,1298 L792,1342 Q828,1378 868,1342 L875,1298 Z"/>
<ellipse class="w2" cx="828" cy="1280" rx="58" ry="38"/>
<ellipse cx="828" cy="1280" rx="40" ry="25" fill="#333" stroke="#111" stroke-width="1"/>
<ellipse cx="828" cy="1280" rx="15" ry="9" fill="#fff" stroke="#111" stroke-width="0.8"/>
<path class="k" d="M775,1300 Q828,1345 882,1300"/>
</g>
</g>
<g id="p-34_p25_28">
<g transform="translate(460,570) scale(0.146667)">
<path class="ld" d="M85,152 L118,172 M275,282 L312,305 M350,330 L372,342 M500,432 L760,600 L852,662 M925,705 L940,715 M245,428 L472,582 M258,692 L492,832"/>
<!-- 28 -->
</g><g transform="translate(465,580) scale(0.066667)">
<path class="w2" d="M300,225 L455,330 Q478,380 440,440 L400,465 L250,370 Z"/>
<path class="w2" d="M440,350 L520,410 Q555,440 540,485 L510,500 L438,448 Z"/>
<path class="w2" d="M165,290 Q170,200 235,185 L300,215 Q322,240 300,300 L250,370 Q195,370 165,290 Z"/>
<ellipse class="k2" cx="218" cy="280" rx="42" ry="78" transform="rotate(-25 218 280)"/>
<path class="k2" d="M275,250 L415,345 M262,300 L395,395 M415,345 Q395,400 400,465 M520,410 Q500,450 510,500 M470,375 L455,455"/>
<!-- 27 -->
<path d="M700,640 Q720,520 830,485 L900,485 L1010,555 Q1060,620 1040,740 Q1000,860 890,905 L830,905 Q730,860 700,760 Z" fill="#fff" stroke="#111" stroke-width="2"/>
<path d="M760,545 L735,650 M735,650 L740,760 M830,500 L790,590 L770,700 L790,820 M900,500 L860,570 L830,690 L840,850 M790,590 L860,570 M770,700 L830,690 M960,530 L905,600 L890,720 L900,880 M740,760 L790,820 M1010,560 L960,640" fill="none" stroke="#111" stroke-width="2"/>
<ellipse cx="935" cy="735" rx="72" ry="125" transform="rotate(20 935 735)" fill="#fff" stroke="#111" stroke-width="2"/>
<path d="M905,620 Q960,600 1000,650 M880,820 Q930,870 985,810" fill="none" stroke="#111" stroke-width="1.6"/>
</g><g transform="translate(460,570) scale(0.146667)">
<!-- 26 -->
<path class="w2" d="M470,585 L560,560 L610,580 L770,515 L795,530 L795,650 L760,690 L640,755 L625,830 L580,820 L530,870 L495,895 L480,880 Q500,740 470,585 Z"/>
<path class="k2" d="M560,560 L575,820 M610,580 L600,825 M625,600 L700,640 L690,665 L625,725 M575,650 L605,650 M578,735 L640,755 M498,605 Q530,740 505,880 M625,600 L640,585"/>
<circle class="k" cx="762" cy="603" r="11"/><circle class="k" cx="502" cy="600" r="6"/><circle class="k" cx="515" cy="858" r="7"/>
<!-- 25 -->
<path class="w2" d="M862,655 L890,640 L920,655 L930,695 L905,730 L870,725 L852,695 Z"/>
<path class="k" d="M875,650 L870,724 M900,645 L895,730 M920,660 L915,715"/>
<!-- screws -->
<path class="b" d="M160,385 L170,365 L195,370 L245,405 L250,425 L235,435 L190,410 L172,405 Z"/>
<path class="b" d="M172,645 L182,625 L207,630 L257,668 L262,688 L247,698 L202,672 L184,665 Z"/>
</g>
</g>
<g id="p-35_p21_24">
<g transform="translate(590,730) scale(0.16)">
<path class="ld" d="M55,160 L115,195 M95,262 L150,295 M200,240 L345,345 M200,330 L420,475"/>
<path class="w2" d="M115,180 L195,230 L200,325 L120,365 Z"/>
<path class="w2" d="M115,180 L190,125 L340,215 L322,245 L265,268 L195,230 Z"/>
<circle class="k" cx="152" cy="225" r="12"/><circle class="k" cx="156" cy="302" r="14"/><circle cx="180" cy="165" r="4" fill="#111"/>
<path class="b" d="M338,352 L352,335 L380,350 L405,352 L418,372 L408,400 L390,410 L372,395 L372,375 L345,362 Z"/>
<path class="b" d="M415,482 L429,465 L457,480 L482,482 L495,502 L485,530 L467,540 L449,525 L449,505 L422,492 Z"/>
<path class="w2" d="M660,510 L735,452 L870,545 L870,565 L800,620 L660,530 Z"/>
<path class="k2" d="M660,510 L800,600 L870,545 M800,600 V620"/>
<circle cx="800" cy="548" r="4" fill="#111"/>
</g>
</g>
<g id="p-36_p36_40">
<g transform="translate(640,190) scale(0.186667)">
<path class="w2" d="M395,135 L415,112 L445,112 L462,135 L458,168 L428,184 L400,166 Z"/>
<path class="k" d="M395,135 L412,150 L445,150 L462,135 M412,150 L415,175 M445,150 L445,176"/>
<ellipse class="k" cx="428" cy="130" rx="15" ry="9"/>
<path class="w2" d="M330,415 V520 Q430,600 530,520 V415 Z"/>
<path class="k2" d="M340,430 V540"/>
<path class="k2" d="M357,430 V540"/>
<path class="k2" d="M374,440 V540"/>
<path class="k2" d="M391,440 V555"/>
<path class="k2" d="M408,440 V555"/>
<path class="k2" d="M425,440 V555"/>
<path class="k2" d="M442,440 V555"/>
<path class="k2" d="M459,440 V555"/>
<path class="k2" d="M476,440 V555"/>
<path class="k2" d="M493,440 V540"/>
<path class="k2" d="M510,430 V540"/>
<path class="k2" d="M527,430 V540"/>
<ellipse class="w2" cx="430" cy="412" rx="100" ry="55"/>
<path class="k2" d="M375,405 L400,385 L455,385 L485,405 L460,432 L400,432 Z M400,385 L405,432 M455,385 L458,432"/>
<path class="w2" d="M165,668 Q90,690 82,790 Q85,850 110,862 L390,1045 Q470,1040 495,930 Q500,870 470,858 Z"/>
<path class="w2" d="M215,695 Q290,700 340,652 Q400,620 470,650 Q522,690 515,722 Q500,762 440,778 L430,815 L300,735 Z"/>
<path class="k2" d="M215,695 L440,835"/>
<ellipse class="k2" cx="418" cy="695" rx="28" ry="14"/>
<ellipse class="w2" cx="432" cy="945" rx="60" ry="100" transform="rotate(18 432 945)"/>
<ellipse class="k2" cx="432" cy="948" rx="44" ry="80" transform="rotate(18 432 948)"/>
<path d="M440,790 Q470,760 510,790 Q525,830 505,860 L470,858 Q440,830 440,790 Z" fill="#333" stroke="#111" stroke-width="1.2"/>
<path d="M455,790 L470,850 M475,778 L485,855 M495,782 L500,855" stroke="#bbb" stroke-width="0.6" fill="none"/>
<path class="w2" d="M408,1085 Q430,1065 452,1085 V1355 H408 Z"/>
<path class="k" d="M408,1110 H452 M408,1135 H452 M408,1160 H452 M408,1185 H452 M408,1210 H452 M408,1235 H452 M408,1260 H452 M420,1085 V1260 M440,1085 V1260"/>
<path class="w2" d="M398,1360 L408,1352 H452 L462,1360 L462,1392 L445,1405 H415 L398,1392 Z"/>
<path class="k" d="M415,1358 V1402 M445,1358 V1402"/>
<path class="w2" d="M905,620 Q960,500 1080,450 Q1200,420 1260,480 Q1300,560 1290,650 Q1270,760 1180,770 Q1060,750 960,700 L925,690 Z"/>
<path class="k2" d="M990,640 Q1000,570 1080,530 Q1160,490 1190,520 Q1215,560 1205,650 Q1190,700 1140,700 Q1050,690 990,670 Z"/>
<path class="k2" d="M965,650 Q975,560 1070,505 Q1170,460 1215,500 Q1245,560 1232,660 Q1210,730 1140,728 Q1040,715 965,680 Z M1170,520 Q1150,560 1165,640 Q1170,680 1140,700"/>
<path class="k" d="M905,620 Q930,640 925,690 M915,600 Q945,625 940,690"/>
<path class="w2" d="M760,660 V690 Q790,740 850,738 Q910,730 920,690 V660 Z"/>
<ellipse class="w2" cx="840" cy="658" rx="80" ry="55"/>
<path class="k" d="M864,658 L916,658"/>
<path class="k" d="M864,661 L915,667"/>
<path class="k" d="M863,663 L911,676"/>
<path class="k" d="M861,666 L906,684"/>
<path class="k" d="M858,668 L898,691"/>
<path class="k" d="M855,669 L889,698"/>
<path class="k" d="M852,671 L878,703"/>
<path class="k" d="M848,672 L866,707"/>
<path class="k" d="M844,673 L853,709"/>
<path class="k" d="M840,673 L840,710"/>
<path class="k" d="M836,673 L827,709"/>
<path class="k" d="M832,672 L814,707"/>
<path class="k" d="M828,671 L802,703"/>
<path class="k" d="M825,669 L791,698"/>
<path class="k" d="M822,668 L782,691"/>
<path class="k" d="M819,666 L774,684"/>
<path class="k" d="M817,663 L769,676"/>
<path class="k" d="M816,661 L765,667"/>
<path class="k" d="M816,658 L764,658"/>
<path class="k" d="M816,655 L765,649"/>
<path class="k" d="M817,653 L769,640"/>
<path class="k" d="M819,650 L774,632"/>
<path class="k" d="M822,648 L782,625"/>
<path class="k" d="M825,647 L791,618"/>
<path class="k" d="M828,645 L802,613"/>
<path class="k" d="M832,644 L814,609"/>
<path class="k" d="M836,643 L827,607"/>
<path class="k" d="M840,643 L840,606"/>
<path class="k" d="M844,643 L853,607"/>
<path class="k" d="M848,644 L866,609"/>
<path class="k" d="M852,645 L878,613"/>
<path class="k" d="M855,647 L889,618"/>
<path class="k" d="M858,648 L898,625"/>
<path class="k" d="M861,650 L906,632"/>
<path class="k" d="M863,653 L911,640"/>
<path class="k" d="M864,655 L915,649"/>
<ellipse cx="840" cy="658" rx="34" ry="22" fill="#222"/>
<ellipse cx="842" cy="658" rx="20" ry="12" fill="#fff" stroke="#111" stroke-width="0.8"/>
</g>
</g>
<g id="p-37_p34_41">
<g transform="translate(500,350) scale(0.2)">
<path class="w2" d="M138,180 V222 Q150,232 160,222 V195 M180,205 V245 Q192,255 203,245 V210 M222,190 V220 Q232,228 242,220 V180"/>
<path class="w2" d="M118,130 L170,82 L265,128 L265,165 L215,205 L118,162 Z"/>
<path class="k2" d="M118,130 L215,172 L265,128 M215,172 V205 M140,110 L235,152 M150,100 L245,143 M170,120 L200,95 M185,128 L215,102 M160,145 V180"/>
<path d="M355,372 L395,425" fill="none" stroke="#111" stroke-width="2.2"/>
<path class="k2" d="M395,420 Q420,440 440,490 Q480,560 560,612 M405,415 Q432,438 450,485 Q490,552 568,602"/>
<path class="w2" d="M560,612 L572,598 L650,680 L632,708 L585,655 Z"/>
<path class="k" d="M585,655 L600,635"/>
<path class="k2" d="M920,882 L960,925 L1062,985 M905,925 L960,935 M902,915 L940,905 L960,930 M935,890 L948,912"/>
<path class="k2" d="M1062,985 L1048,1010 L1060,1040 M1240,1140 L1252,1118 L1390,1200 M1310,1160 L1382,1232"/>
<ellipse class="w" cx="1075" cy="1015" rx="10" ry="31" transform="rotate(30 1075 1015)" style="stroke-width:1.3"/>
<ellipse class="w" cx="1092" cy="1026" rx="10" ry="31" transform="rotate(30 1092 1026)" style="stroke-width:1.3"/>
<ellipse class="w" cx="1108" cy="1036" rx="10" ry="31" transform="rotate(30 1108 1036)" style="stroke-width:1.3"/>
<ellipse class="w" cx="1124" cy="1046" rx="10" ry="31" transform="rotate(30 1124 1046)" style="stroke-width:1.3"/>
<ellipse class="w" cx="1141" cy="1057" rx="10" ry="31" transform="rotate(30 1141 1057)" style="stroke-width:1.3"/>
<ellipse class="w" cx="1158" cy="1068" rx="10" ry="31" transform="rotate(30 1158 1068)" style="stroke-width:1.3"/>
<ellipse class="w" cx="1174" cy="1078" rx="10" ry="31" transform="rotate(30 1174 1078)" style="stroke-width:1.3"/>
<ellipse class="w" cx="1190" cy="1088" rx="10" ry="31" transform="rotate(30 1190 1088)" style="stroke-width:1.3"/>
<ellipse class="w" cx="1207" cy="1099" rx="10" ry="31" transform="rotate(30 1207 1099)" style="stroke-width:1.3"/>
<ellipse class="w" cx="1224" cy="1110" rx="10" ry="31" transform="rotate(30 1224 1110)" style="stroke-width:1.3"/>
<ellipse class="w" cx="1240" cy="1120" rx="10" ry="31" transform="rotate(30 1240 1120)" style="stroke-width:1.3"/>
</g>
</g>
<g id="p-38_p52">
<ellipse cx="1132" cy="213.3" rx="212" ry="95" transform="rotate(37.3 1132 213.3)" fill="none" stroke="#444" stroke-width="1.15" stroke-dasharray="15 6"/>
<g transform="translate(940,60) scale(0.266667)">
<!-- 52-1 -->
<path class="w2" d="M135,212 Q90,215 82,260 Q85,295 105,302 L320,450 Q335,470 350,480 L440,538 Q490,540 500,480 Q500,440 470,430 L380,370 Q350,355 330,355 Z"/>
<ellipse class="k2" cx="464" cy="486" rx="33" ry="56" transform="rotate(25 464 486)"/>
<path class="k2" d="M340,360 Q308,392 322,450 M366,368 Q334,402 348,476"/>
<path class="k" d="M125,230 L128,228 M156,240 L166,296"/>
<circle cx="125" cy="230" r="3" fill="#111"/><circle cx="157" cy="240" r="3" fill="#111"/><circle cx="166" cy="296" r="3" fill="#111"/>
<path class="ld" d="M400,415 L620,285"/>
<!-- 52-2 -->
<ellipse class="k2" cx="497" cy="350" rx="8" ry="32"/>
<!-- 52-3 -->
<path d="M520,268 L555,285 L590,300 L588,338 L560,340 L522,308 Z" fill="#fff" stroke="#111" stroke-width="1.8"/>
<path d="M535,285 L575,305 L574,328 L540,308 Z" fill="#bbb" stroke="#111" stroke-width="1"/>
<!-- 52-4 -->
<path d="M585,175 L650,180 L718,240 L715,320 L700,322 L590,262 Z" fill="#fff" stroke="#111" stroke-width="1.6"/>
<path d="M585,175 L600,200 L598,260 M600,200 L700,250 L718,240 M700,250 L700,322" fill="none" stroke="#111" stroke-width="1.2"/>
<path d="M605,215 L690,260 L688,285 L603,245 Z" fill="#444" stroke="#111" stroke-width="1"/>
<path d="M625,228 L650,240 L650,255 L625,243 Z" fill="#ddd"/>
<!-- 52-5 -->
<path d="M602,332 L638,358" fill="none" stroke="#111" stroke-width="3" stroke-linecap="round"/>
<!-- 52 dot -->
<circle cx="572" cy="695" r="3.5" fill="#111"/>
<!-- 52-6 -->
<path class="w2" d="M700,705 Q715,662 760,662 L850,738 Q862,790 822,815 L770,792 L742,772 L712,770 Q692,745 700,705 Z"/>
<path class="k2" d="M760,662 Q730,690 735,740 Q738,765 745,772 M735,740 L800,790 M850,738 Q815,740 805,780 Q800,810 822,815 M745,755 L790,785 L795,770 M800,712 L812,720 L808,730 L796,722 Z"/>
<!-- 52-7 -->
<path class="w2" d="M878,765 L1010,835 L1000,940 L860,862 Z" stroke="none"/>
<ellipse class="w2" cx="872" cy="815" rx="26" ry="56" transform="rotate(22 872 815)"/>
<ellipse class="k2" cx="880" cy="820" rx="24" ry="52" transform="rotate(22 880 820)"/>
<path class="k2" d="M895,775 L1005,835 M870,868 L985,935 M905,790 L905,860 M915,795 L915,868"/>
<ellipse class="w2" cx="995" cy="886" rx="30" ry="56" transform="rotate(22 995 886)"/>
<ellipse class="k2" cx="1002" cy="890" rx="22" ry="44" transform="rotate(22 1002 890)"/>
<path class="k" d="M975,832 Q955,870 970,928"/>
<!-- 52-8 -->
<path class="w2" d="M1075,880 L1330,1045 Q1348,1100 1300,1130 L1030,945 Q1025,905 1075,880 Z"/>
<ellipse class="k2" cx="1306" cy="1086" rx="28" ry="48" transform="rotate(25 1306 1086)"/>
<path class="k2" d="M1035,952 L1170,1042 L1176,1020 L1050,935 M1120,985 L1176,1020"/>
<circle cx="1075" cy="898" r="3.5" fill="#111"/><circle cx="1145" cy="995" r="3.5" fill="#111"/><circle class="k" cx="1265" cy="1028" r="6"/>
</g>
</g>
<g id="p-39_p50_51">
<g transform="translate(160,980) scale(0.16)">
<path class="w2" d="M95,185 L125,180 L140,158 L165,188 L190,158 L215,188 L240,158 L262,180 L278,200 L278,238 Q190,255 95,238 Z"/>
<circle cx="180" cy="228" r="5" fill="#111"/>
<path class="w2" d="M840,172 H1105 Q1128,220 1105,268 H840 Q815,220 840,172 Z"/>
<ellipse class="k2" cx="1107" cy="220" rx="12" ry="47"/>
<circle cx="970" cy="265" r="5" fill="#111"/>
</g>
</g>
<g id="p-40_p47">
<g transform="translate(1090,720) scale(0.06)">
<path class="w2" d="M470,635 L560,580 L890,790 L890,1030 L800,1085 L470,875 Z"/>
<path class="k2" d="M470,635 L800,845 L890,790 M800,845 V1085"/>
<path d="M582,285 V650 M775,405 V780" fill="none" stroke="#222" stroke-width="2.4" stroke-linecap="round"/>
<circle cx="885" cy="905" r="14" fill="#111"/>
</g>
</g>
<g id="p-90_labels">
<path class="ld" d="M348 81.7 L333 168"/>
<path class="ul" d="M348 81.7 H383"/>
<text class="num" text-anchor="middle" transform="translate(366.5,74.1) scale(0.6,1)">29</text>
<path class="ld" d="M405 81 L368 168"/>
<path class="ul" d="M405 81 H438"/>
<text class="num" text-anchor="middle" transform="translate(422.5,73.4) scale(0.6,1)">30</text>
<path class="ld" d="M475 81 L433 260"/>
<path class="ul" d="M475 81 H508"/>
<text class="num" text-anchor="middle" transform="translate(492.5,73.4) scale(0.6,1)">31</text>
<path class="ld" d="M540 81 L477 330"/>
<path class="ul" d="M540 81 H574"/>
<text class="num" text-anchor="middle" transform="translate(558,73.4) scale(0.6,1)">32</text>
<path class="ld" d="M594 83 L485 397"/>
<path class="ul" d="M594 83 H628"/>
<text class="num" text-anchor="middle" transform="translate(612,75.4) scale(0.6,1)">33</text>
<path class="ld" d="M646 85.7 L538 377"/>
<path class="ul" d="M646 85.7 H680"/>
<text class="num" text-anchor="middle" transform="translate(664,78.1) scale(0.6,1)">34</text>
<path class="ld" d="M702 82 L586 440"/>
<path class="ul" d="M702 82 H736"/>
<text class="num" text-anchor="middle" transform="translate(720,74.4) scale(0.6,1)">35</text>
<path class="ld" d="M767 82 L718 213"/>
<path class="ul" d="M767 82 H801"/>
<text class="num" text-anchor="middle" transform="translate(785,74.4) scale(0.6,1)">36</text>
<path class="ld" d="M817 82 L727 263"/>
<path class="ul" d="M817 82 H852"/>
<text class="num" text-anchor="middle" transform="translate(835.5,74.4) scale(0.6,1)">37</text>
<path class="ld" d="M872 122.7 L733 325"/>
<path class="ul" d="M872 122.7 H907"/>
<text class="num" text-anchor="middle" transform="translate(890.5,115.1) scale(0.6,1)">38</text>
<path class="ld" d="M895 181.7 L725 430"/>
<path class="ul" d="M895 181.7 H930"/>
<text class="num" text-anchor="middle" transform="translate(913.5,174.1) scale(0.6,1)">39</text>
<path class="ld" d="M912 230.7 L863 305"/>
<path class="ul" d="M912 230.7 H946"/>
<text class="num" text-anchor="middle" transform="translate(930,223.1) scale(0.6,1)">40</text>
<path class="ld" d="M870 363 L743 562"/>
<path class="ul" d="M870 363 H905"/>
<text class="num" text-anchor="middle" transform="translate(888.5,355.4) scale(0.6,1)">41</text>
<path class="ld" d="M883 421.7 L830 550"/>
<path class="ul" d="M883 421.7 H918"/>
<text class="num" text-anchor="middle" transform="translate(901.5,414.1) scale(0.6,1)">42</text>
<path class="ld" d="M919 461.7 L845 615"/>
<path class="ul" d="M919 461.7 H954"/>
<text class="num" text-anchor="middle" transform="translate(937.5,454.1) scale(0.6,1)">44</text>
<path class="ld" d="M950 51.7 L983 138"/>
<path class="ul" d="M950 51.7 H998"/>
<text class="num" transform="translate(951.5,44.1) scale(0.6,1)" textLength="75" lengthAdjust="spacing">52–1</text>
<path class="ld" d="M1029 51.7 L1072 150"/>
<path class="ul" d="M1029 51.7 H1077"/>
<text class="num" transform="translate(1030.5,44.1) scale(0.6,1)" textLength="75" lengthAdjust="spacing">52–2</text>
<path class="ld" d="M1110 51.7 L1088 137"/>
<path class="ul" d="M1110 51.7 H1157"/>
<text class="num" transform="translate(1111.5,44.1) scale(0.6,1)" textLength="73.3333" lengthAdjust="spacing">52–3</text>
<path class="ld" d="M1182 51.7 L1127 122"/>
<path class="ul" d="M1182 51.7 H1229"/>
<text class="num" transform="translate(1183.5,44.1) scale(0.6,1)" textLength="73.3333" lengthAdjust="spacing">52–4</text>
<path class="ld" d="M1251 83 L1110 152"/>
<path class="ul" d="M1251 83 H1298"/>
<text class="num" transform="translate(1252.5,75.4) scale(0.6,1)" textLength="73.3333" lengthAdjust="spacing">52–5</text>
<path class="ld" d="M1278 148 L1153 250"/>
<path class="ul" d="M1278 148 H1326"/>
<text class="num" transform="translate(1279.5,140.4) scale(0.6,1)" textLength="75" lengthAdjust="spacing">52–6</text>
<path class="ld" d="M1297 210.7 L1200 278"/>
<path class="ul" d="M1297 210.7 H1345"/>
<text class="num" transform="translate(1298.5,203.1) scale(0.6,1)" textLength="75" lengthAdjust="spacing">52–7</text>
<path class="ld" d="M1315 277 L1245 325"/>
<path class="ul" d="M1315 277 H1363"/>
<text class="num" transform="translate(1316.5,269.4) scale(0.6,1)" textLength="75" lengthAdjust="spacing">52–8</text>
<path class="ld" d="M1003 290 L1093 246"/>
<path class="ul" d="M968 290 H1003"/>
<text class="num" text-anchor="middle" transform="translate(986.5,282.4) scale(0.6,1)">52</text>
<path class="ld" d="M1247 468 L1114 538"/>
<path class="ul" d="M1247 468 H1283"/>
<text class="num" text-anchor="middle" transform="translate(1266,460.4) scale(0.6,1)">43</text>
<path class="ld" d="M1230 648 L948 710"/>
<path class="ul" d="M1230 648 H1264"/>
<text class="num" text-anchor="middle" transform="translate(1248,640.4) scale(0.6,1)">45</text>
<path class="ld" d="M1230 704 L955 763"/>
<path class="ul" d="M1230 704 H1264"/>
<text class="num" text-anchor="middle" transform="translate(1248,696.4) scale(0.6,1)">46</text>
<path class="ld" d="M1230 745 L1144 773"/>
<path class="ul" d="M1230 745 H1264"/>
<text class="num" text-anchor="middle" transform="translate(1248,737.4) scale(0.6,1)">47</text>
<path class="ld" d="M1230 831 L1095 890"/>
<path class="ul" d="M1230 831 H1264"/>
<text class="num" text-anchor="middle" transform="translate(1248,823.4) scale(0.6,1)">48</text>
<path class="ld" d="M1230 915 L1067 977"/>
<path class="ul" d="M1230 915 H1264"/>
<text class="num" text-anchor="middle" transform="translate(1248,907.4) scale(0.6,1)">49</text>
<path class="ld" d="M195 171.7 L325 220"/>
<path class="ul" d="M161 171.7 H195"/>
<text class="num" text-anchor="middle" transform="translate(179,164.1) scale(0.6,1)">1</text>
<path class="ld" d="M195 207.7 L467 290"/>
<path class="ul" d="M161 207.7 H195"/>
<text class="num" text-anchor="middle" transform="translate(179,200.1) scale(0.6,1)">2</text>
<path class="ld" d="M195 246 L433 305"/>
<path class="ul" d="M161 246 H195"/>
<text class="num" text-anchor="middle" transform="translate(179,238.4) scale(0.6,1)">3</text>
<path class="ld" d="M200 293 L432 330"/>
<path class="ul" d="M157 293 H200"/>
<text class="num" text-anchor="middle" transform="translate(179.5,285.4) scale(0.6,1)">4</text>
<path class="ld" d="M200 331.7 L405 352"/>
<path class="ul" d="M157 331.7 H200"/>
<text class="num" text-anchor="middle" transform="translate(179.5,324.1) scale(0.6,1)">5</text>
<path class="ld" d="M197 371 L293 413"/>
<path class="ul" d="M157 371 H197"/>
<text class="num" text-anchor="middle" transform="translate(178,363.4) scale(0.6,1)">6</text>
<path class="ld" d="M200 424 L350 445"/>
<path class="ul" d="M161 424 H200"/>
<text class="num" text-anchor="middle" transform="translate(181.5,416.4) scale(0.6,1)">7</text>
<path class="ld" d="M200 520 L240 467"/>
<path class="ul" d="M167 520 H200"/>
<text class="num" text-anchor="middle" transform="translate(184.5,512.4) scale(0.6,1)">8</text>
<path class="ld" d="M173 807 L252 693"/>
<path class="ul" d="M139 807 H173"/>
<text class="num" text-anchor="middle" transform="translate(157,799.4) scale(0.6,1)">9</text>
<path class="ld" d="M263 872 L362 780"/>
<path class="ul" d="M230 872 H263"/>
<text class="num" text-anchor="middle" transform="translate(247.5,864.4) scale(0.6,1)">10</text>
<path class="ld" d="M340 927 L443 808"/>
<path class="ul" d="M306 927 H340"/>
<text class="num" text-anchor="middle" transform="translate(324,919.4) scale(0.6,1)">11</text>
<path class="ld" d="M412 977 L497 860"/>
<path class="ul" d="M378 977 H412"/>
<text class="num" text-anchor="middle" transform="translate(396,969.4) scale(0.6,1)">12</text>
<path class="ld" d="M507 526 L485 595"/>
<path class="ul" d="M507 526 H542"/>
<text class="num" text-anchor="middle" transform="translate(525.5,518.4) scale(0.6,1)">28</text>
<path class="ld" d="M553 555 L528 617"/>
<path class="ul" d="M553 555 H588"/>
<text class="num" text-anchor="middle" transform="translate(571.5,547.4) scale(0.6,1)">27</text>
<path class="ld" d="M599 588 L555 657"/>
<path class="ul" d="M599 588 H633"/>
<text class="num" text-anchor="middle" transform="translate(617,580.4) scale(0.6,1)">26</text>
<path class="ld" d="M645 623 L592 667"/>
<path class="ul" d="M645 623 H679"/>
<text class="num" text-anchor="middle" transform="translate(663,615.4) scale(0.6,1)">25</text>
<path class="ld" d="M674 668 L620 752"/>
<path class="ul" d="M674 668 H708"/>
<text class="num" text-anchor="middle" transform="translate(692,660.4) scale(0.6,1)">24</text>
<path class="ld" d="M716 694 L648 787"/>
<path class="ul" d="M716 694 H751"/>
<text class="num" text-anchor="middle" transform="translate(734.5,686.4) scale(0.6,1)">23</text>
<path class="ld" d="M741 731 L666 808"/>
<path class="ul" d="M741 731 H776"/>
<text class="num" text-anchor="middle" transform="translate(759.5,723.4) scale(0.6,1)">22</text>
<path class="ld" d="M783 777 L718 817"/>
<path class="ul" d="M783 777 H817"/>
<text class="num" text-anchor="middle" transform="translate(801,769.4) scale(0.6,1)">21</text>
<path class="ld" d="M615 1031 L685 967"/>
<path class="ul" d="M582 1031 H615"/>
<text class="num" text-anchor="middle" transform="translate(599.5,1023.4) scale(0.6,1)">13</text>
<path class="ld" d="M697 1076 L751 1007"/>
<path class="ul" d="M663 1076 H697"/>
<text class="num" text-anchor="middle" transform="translate(681,1068.4) scale(0.6,1)">14</text>
<path class="ld" d="M761 1103 L805 1048"/>
<path class="ul" d="M727 1103 H761"/>
<text class="num" text-anchor="middle" transform="translate(745,1095.4) scale(0.6,1)">15</text>
<path class="ld" d="M841 1183 L858 1112"/>
<path class="ul" d="M807 1183 H841"/>
<text class="num" text-anchor="middle" transform="translate(825,1175.4) scale(0.6,1)">16</text>
<path class="ld" d="M887 1220 L938 1140"/>
<path class="ul" d="M853 1220 H887"/>
<text class="num" text-anchor="middle" transform="translate(871,1212.4) scale(0.6,1)">17</text>
<path class="ld" d="M973 1269 L1017 1235"/>
<path class="ul" d="M938 1269 H973"/>
<text class="num" text-anchor="middle" transform="translate(956.5,1261.4) scale(0.6,1)">18</text>
<path class="ld" d="M1046 1311 L1100 1225"/>
<path class="ul" d="M1012 1311 H1046"/>
<text class="num" text-anchor="middle" transform="translate(1030,1303.4) scale(0.6,1)">19</text>
<path class="ld" d="M1098 1341 L1115 1306"/>
<path class="ul" d="M1063 1341 H1098"/>
<text class="num" text-anchor="middle" transform="translate(1081.5,1333.4) scale(0.6,1)">20</text>
<path class="ld" d="M222 1067 L189 1017"/>
<path class="ul" d="M222 1067 H256"/>
<text class="num" text-anchor="middle" transform="translate(240,1059.4) scale(0.6,1)">51</text>
<path class="ld" d="M343 1067 L315 1022"/>
<path class="ul" d="M343 1067 H378"/>
<text class="num" text-anchor="middle" transform="translate(361.5,1059.4) scale(0.6,1)">50</text>
</g>
<g id="p-91_guides">
<g class="ld">
<path d="M177,613 L344.8,724.7 L723,975 M733,981.5 L1044,1186 M1077.8,1206.7 L1132.7,1244"/>
<path d="M177,613 L384,478 L602,618 M662,658 L723,698 M783,738 L1000.8,879.4 L1100.4,803.8 L918,683 M873,655 L780,593 M666,521 L497,408"/>
<path d="M720.3,208 V452 M653,323 L716.5,365"/>
<path d="M944.6,776 V878"/>
<path d="M517.8,845.4 L606,912 M413.9,759.2 L448,782 M576.6,869.4 L614.4,888 M622,892 L630.6,899.4 M400,770 L438,796 M576,825 L621.6,845.4 M518.4,876.6 L598.8,933.6"/>
<path d="M1130.7,246.7 L1166.7,270.7 M1286.7,349.3 L1298.7,356"/>
</g>
</g>
</svg>
</body>
</html>
